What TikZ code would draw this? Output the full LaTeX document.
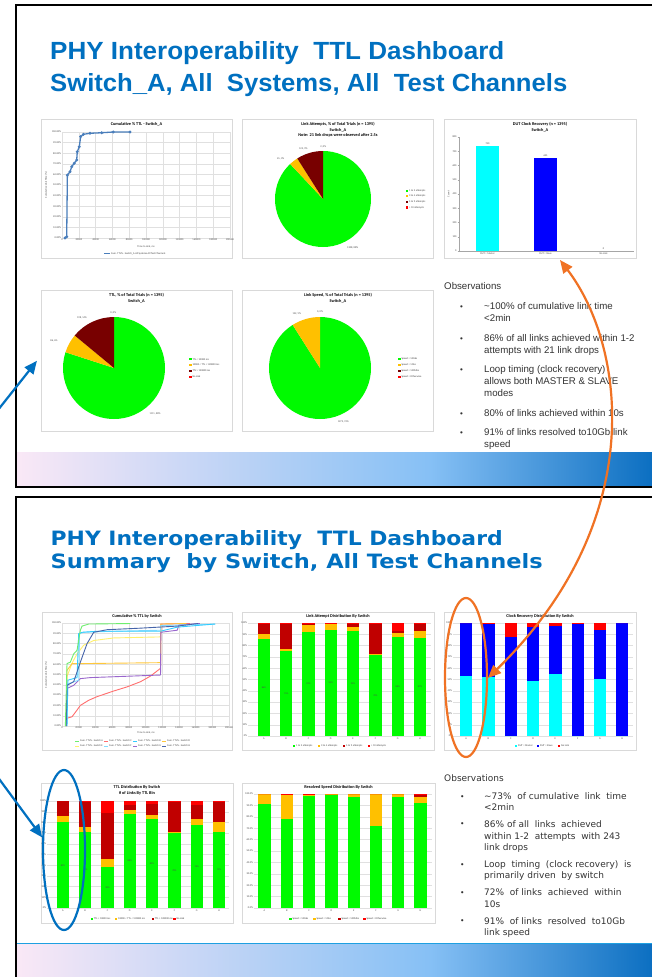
\documentclass[tikz,border=0pt]{standalone}
\usepackage{fontspec}
\usepackage{graphicx}
\setmainfont{Liberation Sans}
\newfontfamily\widefont{DejaVu Sans}
\newfontfamily\chartfont{Carlito}
\usetikzlibrary{arrows.meta,shapes.geometric}

\definecolor{titleblue}{RGB}{0,112,192}
\definecolor{bandpink}{RGB}{250,232,246}
\definecolor{bandmid}{RGB}{134,192,245}
\definecolor{banddark}{RGB}{4,106,190}
\definecolor{bandedge}{RGB}{30,160,225}
\definecolor{xgreen}{RGB}{0,250,0}
\definecolor{xyellow}{RGB}{255,192,0}
\definecolor{xmaroon}{RGB}{120,0,0}
\definecolor{xdred}{RGB}{192,0,0}
\definecolor{xred}{RGB}{255,0,0}
\definecolor{xcyan}{RGB}{0,255,255}
\definecolor{xblue}{RGB}{0,0,255}
\definecolor{cumblue}{RGB}{74,126,187}
\definecolor{swA}{RGB}{110,238,110}
\definecolor{swB}{RGB}{51,204,255}
\definecolor{swC}{RGB}{255,110,110}
\definecolor{swD}{RGB}{255,200,60}
\definecolor{swE}{RGB}{255,240,110}
\definecolor{swF}{RGB}{130,220,255}
\definecolor{swG}{RGB}{153,102,204}
\definecolor{swH}{RGB}{70,100,170}
\definecolor{annblue}{RGB}{0,112,192}
\definecolor{annorange}{RGB}{240,114,36}

\tikzstyle{slideframe} = [draw=black, line width=1.5pt]
\tikzstyle{panel} = [draw=black!15, fill=white, line width=0.5pt, inner sep=0pt, anchor=north west]
\tikzstyle{ctitle} = [font=\chartfont\bfseries\fontsize{4.3}{5.4}\selectfont, align=center, inner sep=0pt, anchor=north]
\tikzstyle{ticklbl} = [font=\chartfont\fontsize{2.6}{3}\selectfont, text=black!70, inner sep=0.8pt]
\tikzstyle{seglbl} = [font=\chartfont\fontsize{2.4}{3}\selectfont, text=black!70, inner sep=0pt]
\tikzstyle{lgd} = [font=\chartfont\fontsize{2.6}{3}\selectfont, text=black!75, inner sep=0pt, anchor=west]
\tikzstyle{gridln} = [draw=black!12, line width=0.3pt]
\tikzstyle{axisln} = [draw=black!35, line width=0.35pt]
\tikzstyle{obs} = [anchor=mid west, inner sep=0pt, text=black!80, font=\fontsize{9.7}{11}\selectfont]
\tikzstyle{obsb} = [anchor=mid west, inner sep=0pt, text=black!80, font=\widefont\fontsize{9}{10}\selectfont]
\tikzstyle{oval} = [ellipse, draw, line width=2.2pt, minimum width=42pt, minimum height=160pt]
\tikzstyle{annarrow} = [line width=2.2pt, -{Triangle[length=13pt,width=11pt]}]

% grid and labels of the cumulative TTL plots (unit = one grid step)
\newcommand{\cumgrid}{%
  \foreach \v in {0,...,10} {
    \draw[gridln] (0,\v) -- (10,\v);
    \draw[gridln] (\v,0) -- (\v,10);
    \pgfmathtruncatemacro{\pct}{10*\v}
    \node[ticklbl, anchor=east] at (0,\v) {\pct.00\%};
  }
  \foreach \v/\ms in {0/0,1/20000,2/40000,3/60000,4/80000,5/100000,6/120000,7/140000,8/160000,9/180000,10/200000}
    \node[ticklbl, anchor=north] at (\v,0) {\ms};
}
\newcommand{\pieslice}[4]{\fill[#1] (0,0) -- (#2:#4) arc[start angle=#2, end angle=#3, radius=#4] -- cycle;}
\newcommand{\lgditem}[4]{%
  \fill[#1] (#2,#3-1.1) rectangle ++(2.2,2.2);
  \node[lgd] at (#2+3,#3) {#4};}

\begin{document}
\begin{tikzpicture}[x=1pt, y=-1pt]
\useasboundingbox (0,0) rectangle (652,977);
\fill[white] (0,0) rectangle (652,977);

% slide 1 =============================

% bottom band
\shade[left color=bandpink, right color=bandmid] (16,452) rectangle (430,487);
\shade[left color=bandmid, right color=banddark] (430,452) rectangle (666,487);
\draw[slideframe] (15.75,5) rectangle (668,487);

% title
\node[anchor=base west, inner sep=0pt, text=titleblue, font=\bfseries] (titleA1) at (50,59.5)
  {\resizebox{454pt}{18pt}{PHY Interoperability\ \ TTL Dashboard}};
\node[anchor=base west, inner sep=0pt, text=titleblue, font=\bfseries] (titleA2) at (50,91.5)
  {\resizebox{517pt}{18pt}{Switch\_A, All\ \ Systems, All\ \ Test Channels}};

% cumulative TTL
\node[panel, minimum width=191pt, minimum height=139pt] (cumA) at (41,119) {};
\node[ctitle] at (136.5,122.5) {Cumulative \% TTL - Switch\_A};
\begin{scope}[shift={(62,238)}, x=16.8pt, y=10.6pt]
  \cumgrid
  \draw[cumblue, line width=1.3pt] plot[mark=*, mark size=0.7pt] coordinates {(0.18,0) (0.28,0.12) (0.32,5.94)
    (0.48,6.25) (0.58,6.73) (0.73,7.05) (0.875,7.36) (0.91,8.14) (1.03,8.61) (1.11,9.56) (1.27,9.78)
    (1.67,9.88) (2.36,9.93) (3.05,10) (4.05,10)};
\end{scope}
\node[ticklbl, rotate=90] at (46,185) {Cumulative Link Time (\%)};
\node[ticklbl] at (146,246.5) {Time to Link, ms};
\draw[cumblue, line width=0.8pt] (104,253.5) -- (110,253.5);
\node[lgd] at (111,253.5) {Cum. TTL\% - Switch\_A All Systems All Test Channels};

% link attempts pie
\node[panel, minimum width=191pt, minimum height=139pt] (attemptsA) at (242,119) {};
\node[ctitle] at (338,122.5) {Link Attempts, \% of Total Trials (n = 1395)\\Switch\_A\\Note: 21 link drops were observed after 2.5s};
\begin{scope}[shift={(323,199)}, y=1pt]
  \pieslice{xgreen}{90}{-226.8}{48}
  \pieslice{xyellow}{-226.8}{-237.6}{48}
  \pieslice{xmaroon}{-237.6}{-270}{48}
\end{scope}
\node[ticklbl] at (352.7,247.3) {1208, 88\%};
\node[ticklbl] at (280.7,159) {45, 3\%};
\node[ticklbl] at (303.3,148.3) {122, 9\%};
\node[ticklbl] at (323.3,146.7) {2, 0\%};
\begin{scope}
  \clip (242,119) rectangle (433,258);
  \lgditem{xgreen}{406}{190.7}{1 to 2 attempts}
  \lgditem{xyellow}{406}{196.3}{3 to 4 attempts}
  \lgditem{xmaroon}{406}{201.9}{5 to 9 attempts}
  \lgditem{xred}{406}{207.5}{> 10 attempts}
\end{scope}

% clock recovery bars
\node[panel, minimum width=192pt, minimum height=139pt] (clockA) at (444,119) {};
\node[ctitle] at (540,122.5) {DUT Clock Recovery (n = 1395)\\Switch\_A};
\begin{scope}[shift={(459,251)}, y=0.1425pt]
  \draw[axisln] (0,0) -- (0,800);
  \draw[axisln] (0,0) -- (175,0);
  \foreach \v in {0,100,...,800} {
    \draw[axisln] (-1.5,\v) -- (0,\v);
    \node[ticklbl, anchor=east] at (-1.5,\v) {\v};
  }
  \fill[xcyan] (17,0) rectangle (40,740);
  \fill[xblue] (75,0) rectangle (98,655);
  \node[ticklbl, anchor=south] at (28.5,740) {740};
  \node[ticklbl, anchor=south] at (86.5,655) {655};
  \node[ticklbl, anchor=south] at (144.5,0) {0};
  \node[ticklbl, anchor=north] at (28.5,-8) {DUT = Master};
  \node[ticklbl, anchor=north] at (86.5,-8) {DUT = Slave};
  \node[ticklbl, anchor=north] at (144.5,-8) {No Link};
\end{scope}
\node[ticklbl, rotate=90] at (448.5,194) {Count};

% TTL pie
\node[panel, minimum width=191pt, minimum height=141pt] (ttlA) at (41,290) {};
\node[ctitle] at (136.5,293.5) {TTL, \% of Total Trials (n = 1395)\\Switch\_A};
\begin{scope}[shift={(114,368)}, y=1pt]
  \pieslice{xgreen}{90}{-198}{51}
  \pieslice{xyellow}{-198}{-219.6}{51}
  \pieslice{xmaroon}{-219.6}{-270}{51}
\end{scope}
\node[ticklbl] at (155,413.3) {1111, 80\%};
\node[ticklbl] at (54,341) {86, 6\%};
\node[ticklbl] at (82,317.3) {198, 14\%};
\node[ticklbl] at (113.3,312.3) {0, 0\%};
\lgditem{xgreen}{189.3}{359.3}{TTL < 10000 ms}
\lgditem{xyellow}{189.3}{365}{10000 < TTL < 120000 ms}
\lgditem{xmaroon}{189.3}{370.8}{TTL > 120000 ms}
\lgditem{xred}{189.3}{376.6}{No Link}

% link speed pie
\node[panel, minimum width=191pt, minimum height=141pt] (speedA) at (242,290) {};
\node[ctitle] at (338,293.5) {Link Speed, \% of Total Trials (n = 1395)\\Switch\_A};
\begin{scope}[shift={(320,368)}, y=1pt]
  \pieslice{xgreen}{90}{-237.6}{51}
  \pieslice{xyellow}{-237.6}{-270}{51}
\end{scope}
\node[ticklbl] at (343.3,421.7) {1273, 91\%};
\node[ticklbl] at (296.7,313.3) {122, 9\%};
\node[ticklbl] at (320,311.7) {0, 0\%};
\begin{scope}
  \clip (242,290) rectangle (433,431);
  \lgditem{xgreen}{398.3}{359.3}{Speed = 10Gbs}
  \lgditem{xyellow}{398.3}{365}{Speed = 1Gbs}
  \lgditem{xmaroon}{398.3}{370.8}{Speed = 100Mbs}
  \lgditem{xred}{398.3}{376.6}{Speed = Otherwise}
\end{scope}

% observations
\node[obs] (obsA) at (444,287) {Observations};
\foreach \ly in {307,339,370,414,433}
  \node[obs, font=\fontsize{8}{8}\selectfont] at (460,\ly) {\textbullet};
\node[obs] at (484,307) {\textasciitilde100\% of cumulative link time};
\node[obs] at (484,319) {<2min};
\node[obs] at (484,339) {86\% of all links achieved within 1-2};
\node[obs] at (484,350.5) {attempts with 21 link drops};
\node[obs] at (484,370) {Loop timing (clock recovery)};
\node[obs] at (484,382) {allows both MASTER \& SLAVE};
\node[obs] at (484,394) {modes};
\node[obs] at (484,414) {80\% of links achieved within 10s};
\node[obs] at (484,433) {91\% of links resolved to10Gb link};
\node[obs] at (484,444.5) {speed};

% slide 2 =============================

\shade[left color=bandpink, right color=bandmid] (16,943) rectangle (430,990);
\shade[left color=bandmid, right color=banddark] (430,943) rectangle (666,990);
\draw[bandedge, line width=1.2pt] (16,943.5) -- (666,943.5);
\draw[slideframe] (15.75,497) rectangle (668,995);

% title
\node[anchor=base west, inner sep=0pt, text=titleblue, font=\widefont\bfseries] (titleB1) at (50.5,545)
  {\resizebox{452pt}{15pt}{PHY Interoperability\ \ TTL Dashboard}};
\node[anchor=base west, inner sep=0pt, text=titleblue, font=\widefont\bfseries] (titleB2) at (50.5,568)
  {\resizebox{492pt}{15pt}{Summary\ \ by Switch, All Test Channels}};

% cumulative TTL by switch
\node[panel, minimum width=190pt, minimum height=138pt] (cumall) at (42,612) {};
\node[ctitle] at (137,614.5) {Cumulative \% TTL by Switch};
\begin{scope}[shift={(62,726)}, x=16.7pt, y=10.3pt]
  \cumgrid
  \draw[swC, line width=0.9pt] plot coordinates {(0.3,0.75) (0.6,0.9) (0.9,1.55) (1.1,2.0) (1.6,2.5) (2.1,2.85)
    (3.1,3.4) (3.9,3.8) (4.7,4.3) (5.3,4.85) (5.9,5.6) (5.92,9.9) (7.65,9.95)};
  \draw[swE, line width=0.9pt] plot coordinates {(0.25,0) (0.3,4.8) (0.6,6.1) (0.9,7.0) (1.3,7.85) (1.9,8.3)
    (3.1,8.55) (5.9,8.65)};
  \draw[swD, line width=0.9pt] plot coordinates {(0.25,0) (0.3,5.4) (0.6,6.05) (5.9,6.15) (5.92,9.9) (7.45,9.95)};
  \draw[swG, line width=0.9pt] plot coordinates {(0.25,0) (0.3,3.65) (0.7,3.95) (1.1,4.6) (1.7,4.7) (5.9,4.95)
    (5.92,9.1) (6.9,9.3) (7.0,9.8) (8.25,9.95)};
  \draw[swF, line width=0.9pt] plot coordinates {(0.3,0) (0.35,4.1) (1.0,4.45) (1.05,8.97) (1.3,9.1) (3.1,9.2)
    (5.9,9.3) (5.92,9.75) (9.2,9.9)};
  \draw[swB, line width=0.9pt] plot coordinates {(0.3,0) (0.35,4.45) (0.9,4.7) (1.0,8.97) (1.2,9.1) (2.1,9.2)
    (5.9,9.2) (6.9,9.6) (9.15,9.9)};
  \draw[swH, line width=0.9pt] plot coordinates {(0.25,0) (0.3,3.95) (0.7,4.3) (1.1,6.2) (1.5,8.0) (1.9,9.1)
    (2.7,9.35) (4.7,9.5) (6.9,9.7) (8.15,9.95)};
  \draw[swA, line width=0.9pt] plot coordinates {(0.2,0) (0.3,6.06) (0.5,6.2) (0.7,7.0) (0.9,7.35) (1.1,9.3)
    (1.2,9.7) (1.6,9.9) (4.1,9.95)};
\end{scope}
\node[ticklbl, rotate=90] at (46,675) {Cumulative Link Time (\%)};
\node[ticklbl] at (146,733) {Time to Link, ms};
\foreach \c/\lx/\ly/\n in {swA/75/741/A, swC/104/741/C, swB/133/741/B, swD/162/741/D,
                           swE/75/746/E, swF/104/746/F, swG/133/746/G, swH/162/746/H} {
  \draw[\c, line width=0.8pt] (\lx,\ly) -- ++(4,0);
  \node[lgd] at (\lx+5,\ly) {Cum. TTL\% - Switch \n};
}

% link attempts by switch
\node[panel, minimum width=192pt, minimum height=138pt] (attemptsall) at (242,612) {};
\node[ctitle] at (338,614.5) {Link Attempt Distribution By Switch};
\begin{scope}[shift={(248,736)}, y=1.13pt]
  \foreach \v in {0,10,...,100} {
    \draw[gridln] (0,\v) -- (183,\v);
    \node[ticklbl, anchor=east] at (0,\v) {\v\%};
  }
  \foreach \i/\g/\yl/\dr/\n in {0/86/90.6/98.8/A, 1/75/77.4/98.8/B, 2/92/98/99.4/C, 3/94/99/99.6/D,
                                4/93/96.5/98.8/E, 5/72/73/99.4/F, 6/88/91/93/G, 7/87/93/99.4/H} {
    \pgfmathsetmacro{\xl}{9.7+22.3*\i}
    \fill[xgreen] (\xl,0) rectangle ++(12.3,\g);
    \fill[xyellow] (\xl,\g) rectangle ++(12.3,\yl-\g);
    \fill[xdred] (\xl,\yl) rectangle ++(12.3,\dr-\yl);
    \fill[xred] (\xl,\dr) rectangle ++(12.3,100-\dr);
    \node[seglbl] at (\xl+6.15,\g/2) {\g\%};
    \node[ticklbl, anchor=north] at (\xl+6.15,-1) {\n};
  }
\end{scope}
\lgditem{xgreen}{293}{746}{1 to 2 attempts}
\lgditem{xyellow}{318}{746}{3 to 4 attempts}
\lgditem{xdred}{343}{746}{5 to 9 attempts}
\lgditem{xred}{368}{746}{> 10 attempts}

% clock recovery by switch
\node[panel, minimum width=192pt, minimum height=138pt] (clockall) at (444,612) {};
\node[ctitle] at (540,614.5) {Clock Recovery Distribution By Switch};
\begin{scope}[shift={(453,736)}, y=1.13pt]
  \foreach \v in {0,10,...,100} {
    \draw[gridln] (0,\v) -- (180,\v);
    \node[ticklbl, anchor=east] at (0,\v) {\v\%};
  }
  \foreach \i/\cy/\bl/\n in {0/52.7/100/A, 1/52/99.4/B, 2/0/87.3/C, 3/48.8/96.4/D,
                             4/54.7/97/E, 5/0/99.4/F, 6/50.6/94/G, 7/0/100/H} {
    \pgfmathsetmacro{\xl}{7+22.3*\i}
    \fill[xcyan] (\xl,0) rectangle ++(12.3,\cy);
    \fill[xblue] (\xl,\cy) rectangle ++(12.3,\bl-\cy);
    \fill[xred] (\xl,\bl) rectangle ++(12.3,100-\bl);
    \node[ticklbl, anchor=north] at (\xl+6.15,-1) {\n};
  }
\end{scope}
\lgditem{xcyan}{515}{745.7}{DUT = Master}
\lgditem{xblue}{537}{745.7}{DUT = Slave}
\lgditem{xred}{558}{745.7}{No Link}

% TTL by switch
\node[panel, minimum width=192pt, minimum height=140pt] (ttlall) at (41,783) {};
\node[ctitle] at (137,785.5) {TTL Distribution By Switch\\\# of Links By TTL Bin};
\begin{scope}[shift={(47,908)}, y=1.07pt]
  \foreach \v in {0,10,...,100} {
    \draw[gridln] (0,\v) -- (182,\v);
    \node[ticklbl, anchor=east] at (0,\v) {\v\%};
  }
  \foreach \i/\g/\yl/\dr/\n in {0/80/85.8/100/A, 1/71/75.9/99/B, 2/38/46.1/88.9/C, 3/88/91.3/96/D,
                                4/83/87.3/97.5/E, 5/70/70.9/99/F, 6/78/83.3/96/G, 7/71/80.8/99/H} {
    \pgfmathsetmacro{\xl}{9.7+22.3*\i}
    \fill[xgreen] (\xl,0) rectangle ++(12.3,\g);
    \fill[xyellow] (\xl,\g) rectangle ++(12.3,\yl-\g);
    \fill[xdred] (\xl,\yl) rectangle ++(12.3,\dr-\yl);
    \fill[xred] (\xl,\dr) rectangle ++(12.3,100-\dr);
    \node[seglbl] at (\xl+6.15,\g/2) {\g\%};
    \node[ticklbl, anchor=north] at (\xl+6.15,-1) {\n};
  }
\end{scope}
\lgditem{xgreen}{90.7}{918.7}{TTL < 10000 ms}
\lgditem{xyellow}{115}{918.7}{10000 < TTL < 120000 ms}
\lgditem{xdred}{151.7}{918.7}{TTL > 120000 ms}
\lgditem{xred}{173.3}{918.7}{No Link}

% link speed by switch
\node[panel, minimum width=193pt, minimum height=140pt] (speedall) at (242,783) {};
\node[ctitle] at (338.5,785.5) {Resolved Speed Distribution By Switch};
\begin{scope}[shift={(254,908)}, y=1.14pt]
  \foreach \v in {0,10,...,100} {
    \draw[gridln] (0,\v) -- (178,\v);
    \node[ticklbl, anchor=east] at (0,\v) {\v.0\%};
  }
  \foreach \i/\g/\yl/\dr/\n in {0/91/100/100/A, 1/78/99.4/99.7/B, 2/98/99/99.6/C, 3/99.7/100/100/D,
                                4/97.7/100/100/E, 5/72/100/100/F, 6/97/100/100/G, 7/92/97.7/98.8/H} {
    \pgfmathsetmacro{\xl}{4.3+22.3*\i}
    \fill[xgreen] (\xl,0) rectangle ++(12.3,\g);
    \fill[xyellow] (\xl,\g) rectangle ++(12.3,\yl-\g);
    \fill[xdred] (\xl,\yl) rectangle ++(12.3,\dr-\yl);
    \fill[xred] (\xl,\dr) rectangle ++(12.3,100-\dr);
    \node[ticklbl, anchor=north] at (\xl+6.15,-1) {\n};
  }
\end{scope}
\lgditem{xgreen}{289.3}{918.7}{Speed = 10Gbs}
\lgditem{xyellow}{313.3}{918.7}{Speed = 1Gbs}
\lgditem{xdred}{338.3}{918.7}{Speed = 100Mbs}
\lgditem{xred}{363.3}{918.7}{Speed = Otherwise}

% observations
\node[obsb] (obsB) at (444,779) {Observations};
\foreach \ly in {797,824,865,893,921}
  \node[obsb, font=\widefont\fontsize{7.5}{8}\selectfont] at (460,\ly) {•};
\node[obsb] at (484,797) {\textasciitilde73\%\ \ of cumulative\ \ link\ \ time};
\node[obsb] at (484,807.5) {<2min};
\node[obsb] at (484,824.5) {86\% of all\ \ links\ \ achieved};
\node[obsb] at (484,836.5) {within 1-2\ \ attempts\ \ with 243};
\node[obsb] at (484,848) {link drops};
\node[obsb] at (484,865) {Loop\ \ timing\ \ (clock recovery)\ \ is};
\node[obsb] at (484,876) {primarily driven\ \ by switch};
\node[obsb] at (484,893) {72\%\ \ of links\ \ achieved\ \ within};
\node[obsb] at (484,904.5) {10s};
\node[obsb] at (484,921.5) {91\%\ \ of links\ \ resolved\ \ to10Gb};
\node[obsb] at (484,933) {link speed};

% call-outs =============================
\node[oval, draw=annblue] (blueoval) at (64,850) {};
\node[oval, draw=annorange, minimum height=159pt] (orangeoval) at (466,677.5) {};

\coordinate (leftA) at (-6,415);
\coordinate (leftB) at (-6,772);
\draw[annarrow, annblue] (leftA) -- ([xshift=-4pt]ttlA.west);
\draw[annarrow, annblue] (leftB) -- (blueoval.150);

\coordinate (slavebar) at (560,260);
\coordinate (slavestack) at (488,678);
\draw[annorange, line width=2.2pt, {Triangle[length=13pt,width=11pt]}-{Triangle[length=13pt,width=11pt]}]
  (slavebar) .. controls (625,345) and (650,520) .. (slavestack);

\end{tikzpicture}
\end{document}
